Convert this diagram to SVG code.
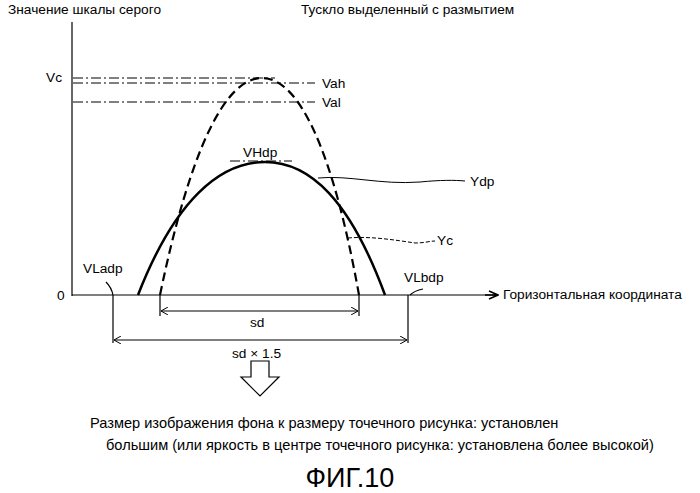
<svg xmlns="http://www.w3.org/2000/svg" width="700" height="493" viewBox="0 0 700 493">
<style>
text{font-family:"Liberation Sans",Arial,sans-serif;font-size:13.7px;fill:#000}
.l{fill:none;stroke:#000;stroke-width:1.2}
.dd{fill:none;stroke:#000;stroke-width:1;stroke-dasharray:10 3 2 3}
.big{font-size:14.6px}
</style>
<defs><marker id="a" markerWidth="8" markerHeight="8" refX="7" refY="4" orient="auto-start-reverse" markerUnits="userSpaceOnUse"><path d="M0,0 L7,4 L0,8" fill="none" stroke="#000"/></marker>
<marker id="b" markerWidth="14" markerHeight="10" refX="13" refY="5" orient="auto" markerUnits="userSpaceOnUse"><path d="M0,5 L13,5 M4,1 L13,5 L4,9" fill="none" stroke="#000" stroke-width="1.5"/></marker></defs>
<g id="axes">
<line x1="72" y1="22" x2="72" y2="296" class="l" stroke-width="1.5"/>
<line x1="72" y1="295" x2="498" y2="295" class="l" stroke-width="1.5" marker-end="url(#b)"/>
<text x="8" y="14">Значение шкалы серого</text>
<text x="301" y="14">Тускло выделенный с размытием</text>
<text x="503" y="299">Горизонтальная координата</text>
<text x="57" y="300">0</text>
<text x="46" y="82">Vc</text>
</g>
<g id="levels">
<line x1="73" y1="78" x2="275" y2="78" class="dd"/>
<line x1="73" y1="83" x2="315" y2="83" class="dd"/>
<line x1="73" y1="102" x2="315" y2="102" class="dd"/>
<text x="322" y="88">Vah</text>
<text x="322" y="107">Val</text>
</g>
<g id="curves">
<path d="M160,295 C190,150 225,78 262,78 C299,78 333,150 359,295" fill="none" stroke="#000" stroke-width="2.2" stroke-dasharray="9 5"/>
<path d="M138,295 C175,200 220,162 265,162 C310,162 350,200 385,295" fill="none" stroke="#000" stroke-width="2.5"/>
<line x1="230" y1="161" x2="292" y2="161" class="dd"/>
<text x="243" y="157">VHdp</text>
<path d="M318,178 C350,175 380,185 420,182 C440,180 455,180 465,181" fill="none" stroke="#000"/>
<text x="470" y="186">Ydp</text>
<path d="M348,238 C370,236 395,240 415,243 C425,243 430,241 435,241" fill="none" stroke="#000" stroke-dasharray="4 2"/>
<text x="437" y="245">Yc</text>
</g>
<g id="dims">
<text x="83" y="273">VLadp</text>
<path d="M106,282 C110,286 112,290 113,295" class="l" stroke-width="1"/>
<text x="404" y="282">VLbdp</text>
<path d="M410,295 C414,291 418,290 423,289" class="l" stroke-width="1"/>
<line x1="113" y1="295" x2="113" y2="343" class="l" stroke-width="1"/>
<line x1="408" y1="295" x2="408" y2="343" class="l" stroke-width="1"/>
<line x1="160" y1="295" x2="160" y2="316" class="l" stroke-width="1"/>
<line x1="359" y1="295" x2="359" y2="316" class="l" stroke-width="1"/>
<line x1="161" y1="311" x2="358" y2="311" class="l" stroke-width="1" marker-start="url(#a)" marker-end="url(#a)"/>
<text x="250" y="327">sd</text>
<line x1="114" y1="340" x2="407" y2="340" class="l" stroke-width="1" marker-start="url(#a)" marker-end="url(#a)"/>
<text x="232" y="358">sd × 1.5</text>
<path d="M251,361 L269,361 L269,377 L279,377 L260,396 L241,377 L251,377 Z" fill="#fff" stroke="#000" stroke-width="1.2"/>
</g>
<text x="90" y="428" class="big">Размер изображения фона к размеру точечного рисунка: установлен</text>
<text x="106" y="450" class="big">большим (или яркость в центре точечного рисунка: установлена более высокой)</text>
<text x="350" y="487" text-anchor="middle" style="font-size:27px">ФИГ.10</text>
</svg>
